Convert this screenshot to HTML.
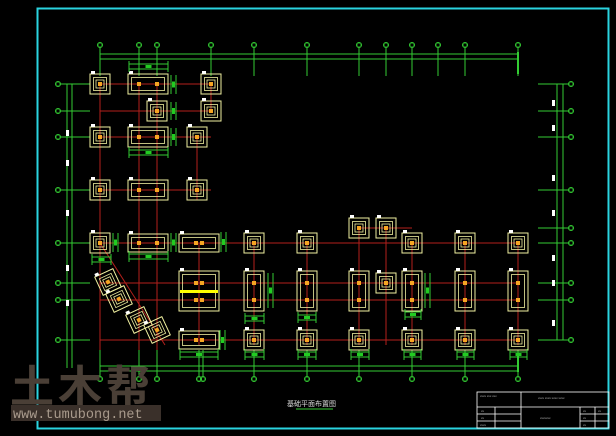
<!DOCTYPE html>
<html><head><meta charset="utf-8"><style>
html,body{margin:0;padding:0;background:#000;width:616px;height:436px;overflow:hidden}
svg{display:block}
</style></head><body>
<svg id="s" width="616" height="436" viewBox="0 0 616 436" xmlns="http://www.w3.org/2000/svg">
<rect width="616" height="436" fill="#000"/>
<rect x="37.5" y="8.5" width="571" height="420" fill="none" stroke="#2ad4e0" stroke-width="2"/>
<g id="g"></g>
<text x="10" y="402" font-family="Liberation Sans, Noto Sans CJK SC, sans-serif" font-size="44" font-weight="bold" fill="#4a3f36" letter-spacing="4">土木帮</text>
<rect x="11" y="405" width="150" height="16" fill="#3a302a"/>
<text x="13" y="418" font-family="Liberation Mono, monospace" font-size="13.5" fill="#a89a8c">www.tumubong.net</text>
<text x="287" y="406" font-family="Liberation Sans, Noto Sans CJK SC, sans-serif" font-size="7" fill="#ddd">基础平面布置图</text>
<line x1="296" y1="409" x2="333" y2="409" stroke="#3c3" stroke-width="1"/>
<g stroke="#fff" stroke-width="0.8" fill="none">
<rect x="477" y="392" width="132" height="36"/>
<line x1="521" y1="392" x2="521" y2="428"/>
<line x1="477" y1="407" x2="609" y2="407"/>
<line x1="477" y1="414" x2="521" y2="414"/><line x1="477" y1="421" x2="521" y2="421"/>
<line x1="495" y1="407" x2="495" y2="428"/>
<line x1="580" y1="407" x2="580" y2="428"/><line x1="595" y1="407" x2="595" y2="428"/>
<line x1="580" y1="414" x2="609" y2="414"/><line x1="580" y1="421" x2="609" y2="421"/>
</g>
<g fill="#bbb" font-family="Liberation Sans, sans-serif" font-size="3">
<text x="480" y="397">xxxx xxx xxx</text><text x="538" y="399">xxxx xxxx xxxx xxxx</text>
<text x="481" y="412">xx</text><text x="481" y="419">xx</text><text x="480" y="426">xxxx</text>
<text x="540" y="419">xxxxxxx</text><text x="583" y="412">xx</text><text x="598" y="412">xx</text><text x="583" y="419">xx</text><text x="583" y="426">xx</text>
</g>
</svg>
<script>
var g=document.getElementById('g'),h='';
function L(a,b,c,d,col,w){h+='<line x1="'+a+'" y1="'+b+'" x2="'+c+'" y2="'+d+'" stroke="'+col+'" stroke-width="'+(w||1)+'"/>';}
function C(x,y){h+='<circle cx="'+x+'" cy="'+y+'" r="2.5" fill="none" stroke="#3c3" stroke-width="1"/><path d="M'+(x-2.2)+' '+y+'L'+x+' '+(y-2.2)+'L'+(x+2.2)+' '+y+'L'+x+' '+(y+2.2)+'Z" fill="none" stroke="#3c3" stroke-width="0.5"/>';}
var G='#3c3',R='#b3201c',Y='#f0f0a0';
var tx=[100,139,157,211,254,307,359,386,412,438,465,518];
L(100,54,518,54,G);L(100,59,518,59,G);L(518,52,518,74,G,2);
tx.forEach(function(x){C(x,45);L(x,48,x,76,G);});
L(67,84,67,368,G);L(72,84,72,368,G);
[84,111,137,190,243,283,300,340].forEach(function(y){C(58,y);L(61,y,90,y,G);});
L(557,84,557,340,G);L(563,84,563,340,G);
[84,111,137,190,228,243,283,300,340].forEach(function(y){C(571,y);L(538,y,568,y,G);});
L(100,366,518,366,G);L(100,371,518,371,G);L(518,356,518,372,G,2);
[100,139,157,199,203,254,307,359,412,465,518].forEach(function(x){C(x,379);L(x,350,x,376,G);});
[[66,130],[66,160],[66,210],[66,265],[66,300],[552,100],[552,125],[552,175],[552,210],[552,255],[552,280],[552,320]].forEach(function(p){h+='<rect x="'+p[0]+'" y="'+p[1]+'" width="3" height="6" fill="#fff"/>';});
[84,111,137,190].forEach(function(y){L(100,y,211,y,R);});
[243,283,300,340].forEach(function(y){L(100,y,518,y,R);});
L(359,228,412,228,R);
[100,139,157].forEach(function(x){L(x,84,x,350,R);});
L(211,84,211,111,R);L(197,137,197,200,R);
[199,254,307,359,386,412,465,518].forEach(function(x){L(x,x==359||x==386?228:243,x,345,R);});
L(100,243,165,345,R);
function F(cx,cy,w,hh,dots,rot){
 var t=rot?' transform="rotate('+rot+' '+cx+' '+cy+')"':'';
 h+='<g'+t+'>';
 h+='<rect x="'+(cx-w/2)+'" y="'+(cy-hh/2)+'" width="'+w+'" height="'+hh+'" fill="none" stroke="'+Y+'" stroke-width="1"/>';
 h+='<rect x="'+(cx-w/2+3.5)+'" y="'+(cy-hh/2+3.5)+'" width="'+(w-7)+'" height="'+(hh-7)+'" fill="none" stroke="'+Y+'" stroke-width="0.8"/>';
 if(w<=22&&hh<=22)h+='<rect x="'+(cx-4)+'" y="'+(cy-4)+'" width="8" height="8" fill="none" stroke="'+Y+'" stroke-width="0.8"/>';
 h+='<rect x="'+(cx-w/2+1)+'" y="'+(cy-hh/2-3)+'" width="4" height="3" fill="#fff"/>';
 (dots||[[cx,cy]]).forEach(function(d){h+='<rect x="'+(d[0]-2)+'" y="'+(d[1]-2)+'" width="4" height="4" fill="#f5a623"/>';});
 h+='</g>';
}
F(100,84,20,20);F(148,84,40,20,[[139,84],[157,84]]);F(211,84,20,20);
F(157,111,20,20);F(211,111,20,20);
F(100,137,20,20);F(148,137,40,20,[[139,137],[157,137]]);F(197,137,20,20);
F(100,190,20,20);F(148,190,40,20,[[139,190],[157,190]]);F(197,190,20,20);
F(100,243,20,20);F(148,243,40,18,[[139,243],[157,243]]);F(199,243,40,18,[[196,243],[202,243]]);
[254,307,412,465,518].forEach(function(x){F(x,243,20,20);});
F(359,228,20,20);F(386,228,20,20);
F(199,291,40,40,[[196,283],[202,283],[196,300],[202,300]]);
[254,307,359,412,465,518].forEach(function(x){F(x,291,20,40,[[x,283],[x,300]]);});
F(386,283,20,20);
F(199,340,40,18,[[196,340],[202,340]]);
[254,307,359,412,465,518].forEach(function(x){F(x,340,20,20);});
F(108,282,20,20,null,-25);F(119,299,20,20,null,-25);F(139,320,20,20,null,-25);F(157,330,20,20,null,-25);
h+='<rect x="180" y="290" width="38" height="3" fill="#ff0"/>';
function B(x1,y,x2){L(x1,y,x2,y,G);L(x1,y+5,x2,y+5,G);L(x1,y-3,x1,y+8,G);L(x2,y-3,x2,y+8,G);h+='<rect x="'+((x1+x2)/2-3)+'" y="'+(y+1)+'" width="6" height="3" fill="#2c2"/>';}
function V(x,y1,y2){L(x,y1,x,y2,G);L(x+5,y1,x+5,y2,G);h+='<rect x="'+(x+1)+'" y="'+((y1+y2)/2-3)+'" width="3" height="6" fill="#2c2"/>';}
B(129,64,168);B(129,150,168);B(129,254,168);B(92,257,111);B(180,352,218);B(245,316,264);B(298,315,316);B(245,352,264);B(298,352,316);B(351,352,369);B(404,352,421);B(457,352,474);B(510,352,527);B(405,312,421);
V(171,75,94);V(171,102,120);V(171,128,146);V(171,233,252);V(113,233,252);V(221,232,252);V(268,273,308);V(425,273,308);V(220,330,350);
g.innerHTML=h;
</script>
</body></html>
